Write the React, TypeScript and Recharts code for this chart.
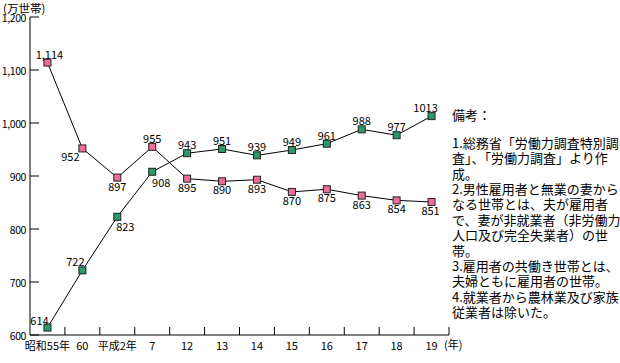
import React from "react";
import { LineChart, Line, XAxis, YAxis, LabelList } from "recharts";

const categories = ["昭和55年", "60", "平成2年", "7", "12", "13", "14", "15", "16", "17", "18", "19"];
const maleEmployedNonWorkingWife = [1114, 952, 897, 955, 895, 890, 893, 870, 875, 863, 854, 851];
const dualIncome = [614, 722, 823, 908, 943, 951, 939, 949, 961, 988, 977, 1013];
const yTicks = [600, 700, 800, 900, 1000, 1100, 1200];
const notes = [
  "1.総務省「労働力調査特別調",
  "査」、「労働力調査」より作",
  "成。",
  "2.男性雇用者と無業の妻から",
  "なる世帯とは、夫が雇用者",
  "で、妻が非就業者（非労働力",
  "人口及び完全失業者）の世",
  "帯。",
  "3.雇用者の共働き世帯とは、",
  "夫婦ともに雇用者の世帯。",
  "4.就業者から農林業及び家族",
  "従業者は除いた。",
];

// label offsets (dx, dy) relative to each point — styling only
const pinkOffsets: [number, number][] = [
  [2, -9], [-12, 8], [0, 8], [0, -9], [0, 8], [0, 8], [0, 8], [0, 8], [0, 8], [0, 8], [0, 8], [-1, 8],
];
const greenOffsets: [number, number][] = [
  [-8, -8], [-7, -9], [8, 9], [9, 10], [0, -9], [0, -9], [0, -9], [0, -9], [0, -9], [0, -9], [0, -9], [-6, -9],
];

const data = categories.map((c, i) => ({
  cat: c,
  male: maleEmployedNonWorkingWife[i],
  dual: dualIncome[i],
}));

const W = 620;
const H = 363;
const M = { top: 17, right: 171, bottom: 0, left: 0 };
const YW = 30;
const XH = 28;
const AXIS_X = M.left + YW;
const AXIS_Y = H - M.bottom - XH;
const HALF_BAND = (W - M.left - M.right - YW) / categories.length / 2;

const FONT = "'Noto Sans CJK JP', sans-serif";
const PINK = "#ee6c9c";
const GREEN = "#2b9a68";

const fmt = (v: number) => v.toLocaleString("en-US");

const XTick = (props: any) => {
  const { x, payload } = props;
  return (
    <g>
      <line x1={x + HALF_BAND} x2={x + HALF_BAND} y1={AXIS_Y - 8} y2={AXIS_Y} stroke="#000" />
      <text x={x} y={AXIS_Y + 10} textAnchor="middle" dominantBaseline="central" fontSize={11} fontFamily={FONT} fill="#000">
        {payload.value}
      </text>
    </g>
  );
};

const YTick = (props: any) => {
  const { y, payload } = props;
  return (
    <g>
      <line x1={AXIS_X} x2={AXIS_X + 9} y1={y} y2={y} stroke="#000" />
      <text x={AXIS_X - 4} y={y + 0.5} textAnchor="end" dominantBaseline="central" fontSize={10.5} fontFamily={FONT} fill="#000" letterSpacing={-0.4}>
        {fmt(payload.value)}
      </text>
    </g>
  );
};

const makeDot = (color: string) => (props: any) => {
  const { cx, cy, index } = props;
  return <rect key={`d${index}`} x={cx - 3.5} y={cy - 3.5} width={7} height={7} fill={color} stroke="#222" strokeWidth={1} />;
};

const makeLabel = (offsets: [number, number][], comma: boolean) => (props: any) => {
  const { x, y, value, index } = props;
  const [dx, dy] = offsets[index] || [0, -9];
  return (
    <text key={`l${index}`} x={x + dx} y={y + dy} textAnchor="middle" dominantBaseline="central" fontSize={11} fontFamily={FONT} fill="#000">
      {comma ? fmt(value) : String(value)}
    </text>
  );
};

export default function App() {
  return (
    <div style={{ position: "absolute", left: 0, top: 0, width: W, height: H, background: "#fff", fontFamily: FONT }}>
      <LineChart width={W} height={H} data={data} margin={M}>
        <XAxis
          dataKey="cat"
          interval={0}
          height={XH}
          tick={<XTick />}
          tickLine={false}
          axisLine={{ stroke: "#000" }}
          padding={{ left: HALF_BAND, right: HALF_BAND }}
        />
        <YAxis
          domain={[600, 1200]}
          ticks={yTicks}
          width={YW}
          tick={<YTick />}
          tickLine={false}
          axisLine={{ stroke: "#000" }}
          interval={0}
        />
        <Line
          dataKey="male"
          stroke="#000"
          strokeWidth={1}
          dot={makeDot(PINK)}
          isAnimationActive={false}
        >
          <LabelList dataKey="male" content={makeLabel(pinkOffsets, true)} />
        </Line>
        <Line
          dataKey="dual"
          stroke="#000"
          strokeWidth={1}
          dot={makeDot(GREEN)}
          isAnimationActive={false}
        >
          <LabelList dataKey="dual" content={makeLabel(greenOffsets, false)} />
        </Line>
      </LineChart>
      <div style={{ position: "absolute", left: 3, top: 2, fontSize: 11.5, lineHeight: "12px", color: "#000" }}>(万世帯)</div>
      <div style={{ position: "absolute", left: 444, top: AXIS_Y + 1, fontSize: 11, lineHeight: "16px", color: "#000" }}>(年)</div>
      <div style={{ position: "absolute", left: 452, top: 106, fontSize: 13, lineHeight: "18px", color: "#000" }}>備考：</div>
      <div style={{ position: "absolute", left: 452, top: 135, fontSize: 13, lineHeight: "15.36px", color: "#000", whiteSpace: "nowrap" }}>
        {notes.map((n, i) => (
          <div key={i} style={{ height: 15.36 }}>{n}</div>
        ))}
      </div>
    </div>
  );
}
